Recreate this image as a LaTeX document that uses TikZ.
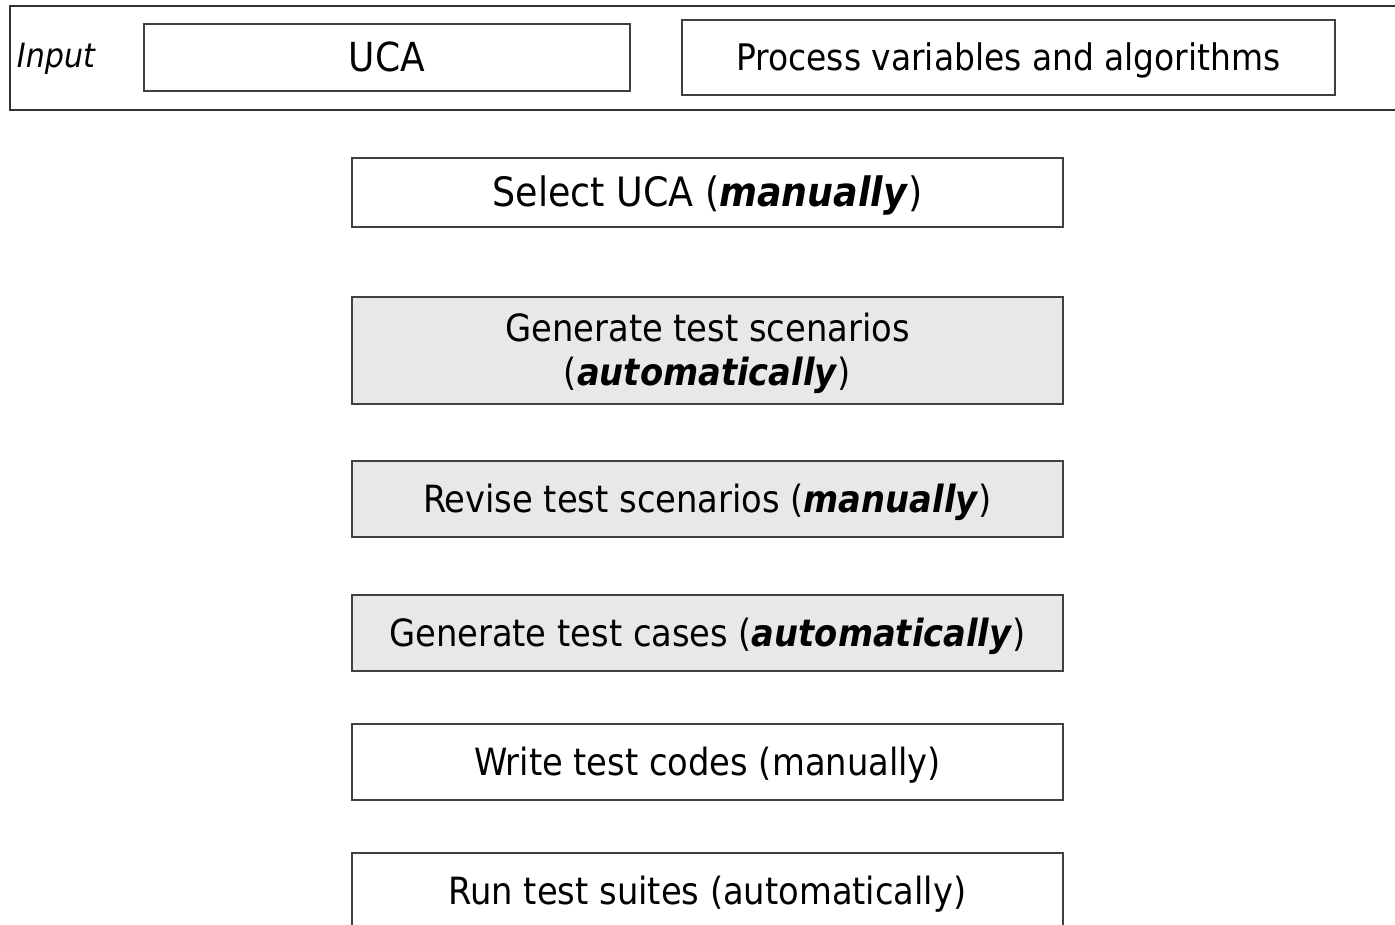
\documentclass[tikz,border=0pt]{standalone}
\usepackage{fontspec}
\setmainfont{DejaVu Sans Condensed}
\begin{document}
\begin{tikzpicture}[x=1pt,y=-1pt,
  every node/.style={inner sep=0pt,outer sep=0pt},
  stepbox/.style={draw=black!75,line width=2pt,minimum width=711pt,minimum height=76pt,align=center,text depth=0.2em,font=\fontsize{37.5}{44}\selectfont},
  graybox/.style={stepbox,fill=black!9},
  topbox/.style={draw=black!75,line width=2pt,text depth=0.2em}]
\useasboundingbox (0,0) rectangle (1395,925);
\clip (0,0) rectangle (1395,925);
\node[draw=black!80,line width=2pt,minimum width=1420pt,minimum height=104pt,anchor=north west] (inputbar) at (10,6) {};
\node[font=\fontsize{33.5}{36}\selectfont\itshape] (input) at (56,59) {Input};
\node[topbox,minimum width=486pt,minimum height=67pt,font=\fontsize{40}{44}\selectfont] (uca) at (387,57.5) {UCA};
\node[topbox,minimum width=653pt,minimum height=75pt,font=\fontsize{36.6}{44}\selectfont] (pva) at (1008.5,57.5) {Process variables and algorithms};
\node[stepbox,minimum height=69pt,font=\fontsize{40.5}{44}\selectfont] (select) at (707.5,192.5) {Select UCA (\textbf{\textit{manually}})};
\node[graybox,minimum height=107pt] (genscen) at (707.5,350.5) {Generate test scenarios\\(\textbf{\textit{automatically}})};
\node[graybox] (revise) at (707.5,499) {Revise test scenarios (\textbf{\textit{manually}})};
\node[graybox] (gencases) at (707.5,633) {Generate test cases (\textbf{\textit{automatically}})};
\node[stepbox] (write) at (707.5,762) {Write test codes (manually)};
\node[stepbox] (run) at (707.5,891) {Run test suites (automatically)};
\end{tikzpicture}
\end{document}
